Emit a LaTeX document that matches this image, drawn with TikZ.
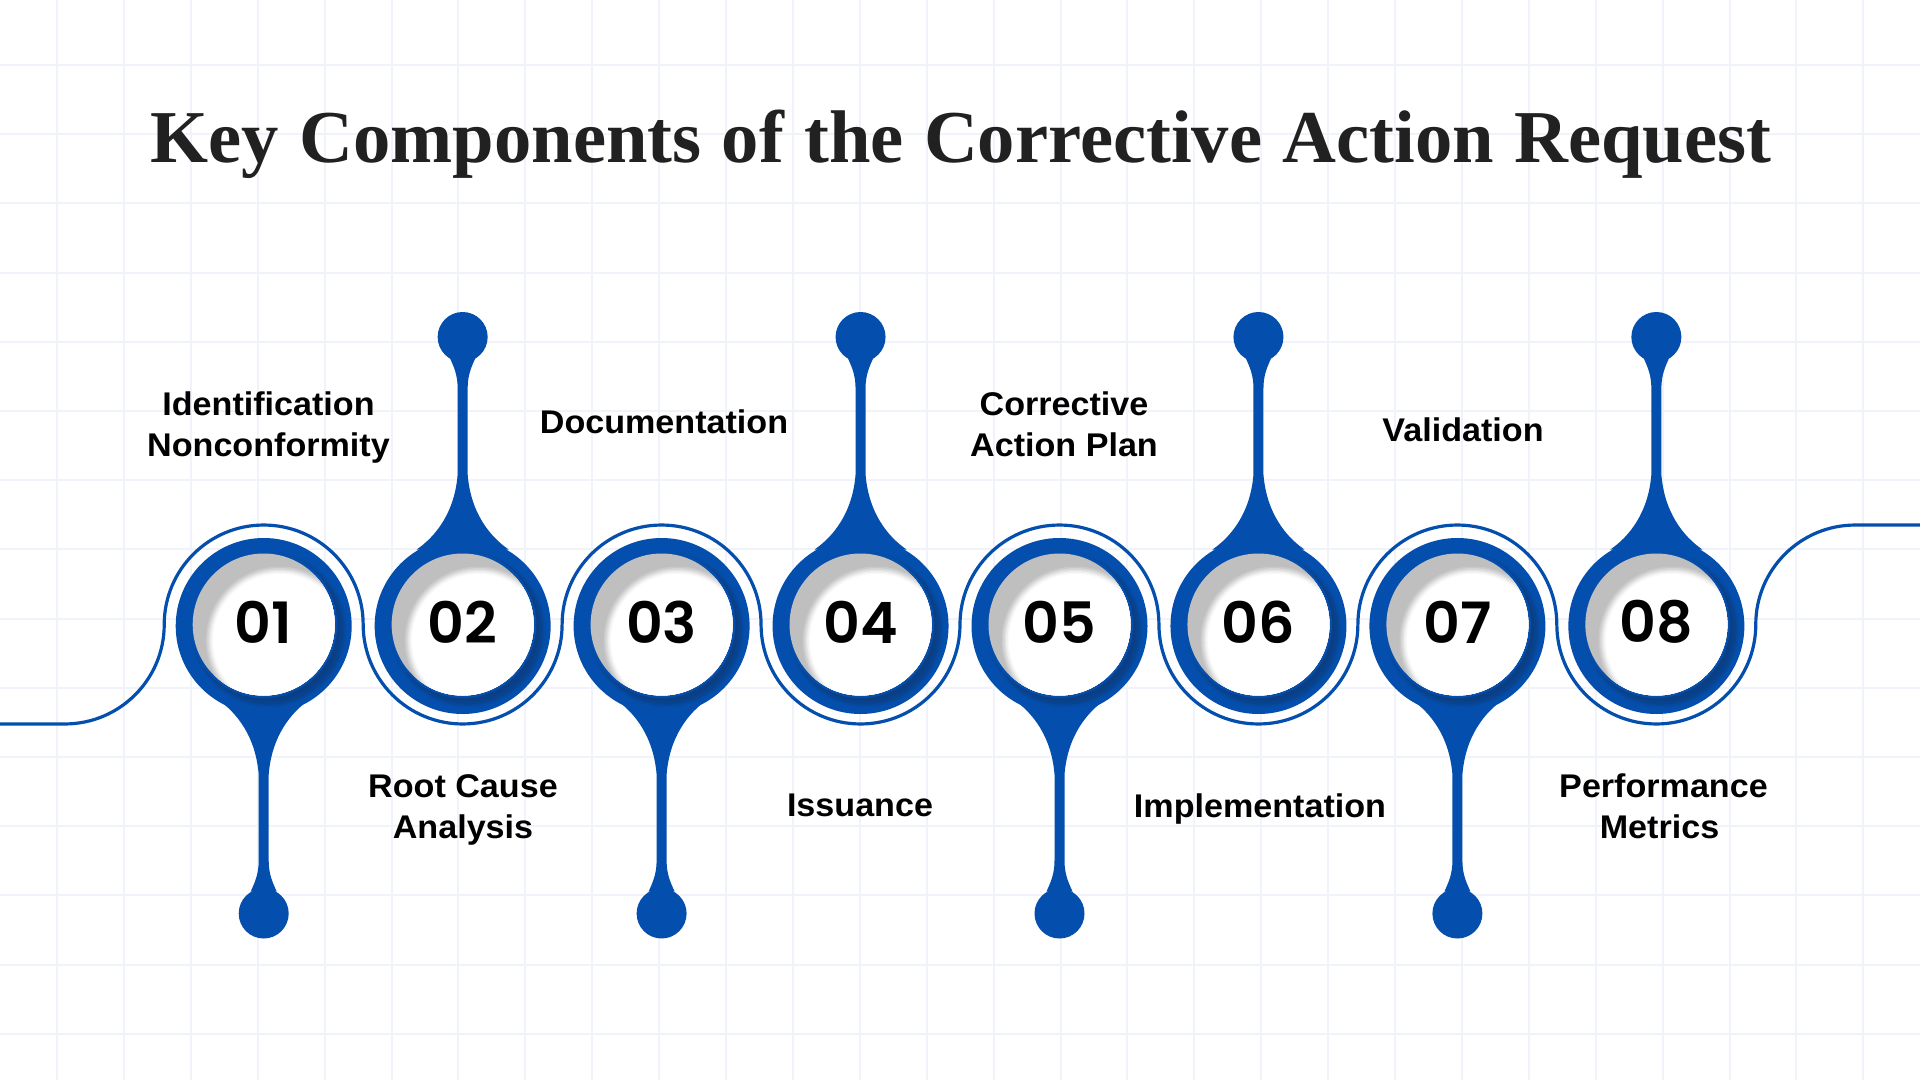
\documentclass[tikz,border=0pt]{standalone}
\usepackage{fontspec}
\setmainfont{Liberation Serif}[WordSpace=1.09]
\newfontfamily\numfont{Poppins}[UprightFont=* SemiBold]
\newfontfamily\labfont{Liberation Sans}[UprightFont=* Bold,FakeStretch=1.04]
\definecolor{pinblue}{HTML}{044FAD}
\definecolor{pindark}{HTML}{0A3F86}
\definecolor{gridc}{HTML}{F0F4FA}
\definecolor{titlec}{HTML}{212121}
\definecolor{crescent}{HTML}{BFBFBF}
\tikzset{
  gridline/.style={gridc,line width=1pt},
  wave/.style={pinblue,line width=1.6pt},
  numtext/.style={font=\numfont\fontsize{28.5}{30}\selectfont,text=black,inner sep=0pt},
  labtext/.style={font=\labfont\fontsize{16.4}{20.5}\selectfont,text=black,align=center,inner sep=0pt,anchor=center},
  titletext/.style={font=\bfseries\fontsize{37.3}{40}\selectfont,text=titlec,inner sep=0pt,anchor=base}
}
\begin{document}
\begin{tikzpicture}[x=0.5pt,y=-0.5pt]
\useasboundingbox (0,0) rectangle (1920,1080);
\fill[white] (0,0) rectangle (1920,1080);
% grid
\foreach \i in {0,...,27}{\draw[gridline] ({57+66.9*\i},0) -- ({57+66.9*\i},1080);}
\foreach \i in {0,...,14}{\draw[gridline] (0,{65+69.2*\i}) -- (1920,{65+69.2*\i});}
% title
\node[titletext] (title) at (961,163) {Key Components of the Corrective Action Request};
% centres
\foreach \k in {1,...,8}{\coordinate (c\k) at ({263.7+198.95*(\k-1)},624.5);}
% wave
\coordinate (wstart) at (0,723.97);
\coordinate (wleft) at (64.76,723.97);
\coordinate (wend) at (1920,525.03);
\draw[wave] (wstart) -- (wleft) arc[start angle=90,end angle=0,radius=99.47]
  arc[start angle=180,end angle=360,radius=99.47]
  arc[start angle=180,end angle=0,radius=99.47]
  arc[start angle=180,end angle=360,radius=99.47]
  arc[start angle=180,end angle=0,radius=99.47]
  arc[start angle=180,end angle=360,radius=99.47]
  arc[start angle=180,end angle=0,radius=99.47]
  arc[start angle=180,end angle=360,radius=99.47]
  arc[start angle=180,end angle=0,radius=99.47]
  arc[start angle=180,end angle=270,radius=99.47] -- (wend);
% pins
\foreach \k/\lab/\s/\kn in {1/01/1/289,2/02/-1/287.5,3/03/1/289,4/04/-1/287.5,5/05/1/289,6/06/-1/287.5,7/07/1/289,8/08/-1/287.5}{
  \begin{scope}[shift={(c\k)}]
    \begin{scope}[yscale=\s]
      \fill[pinblue] (-46,75) .. controls (-27,88) and (-8,112) .. (-5,150)
        -- (-5,236) .. controls (-5,250) and (-9,258) .. (-13,267)
        -- (13,267) .. controls (9,258) and (5,250) .. (5,236)
        -- (5,150) .. controls (8,112) and (27,88) .. (46,75) -- cycle;
      \fill[pinblue] (0,\kn) circle[radius=25];
    \end{scope}
    \fill[pinblue] (0,1.5) circle[radius=88];
    % dark inner shadow on the ring
    \fill[pinblue!80!pindark] (5,5) circle[radius=78];
    \fill[pinblue!55!pindark] (5,5) circle[radius=76.5];
    \fill[pinblue!25!pindark] (5,5) circle[radius=75];
    \fill[pindark] (4,4) circle[radius=73];
    \fill[pinblue] (0,0) circle[radius=73.5];
    % well
    \fill[crescent] (0,0) circle[radius=71];
    \begin{scope}
      \clip (0,0) circle[radius=71];
      \fill[crescent!85!white] (16,16) circle[radius=74];
      \fill[crescent!65!white] (16,16) circle[radius=72.5];
      \fill[crescent!45!white] (16,16) circle[radius=71];
      \fill[crescent!25!white] (16,16) circle[radius=69.5];
      \fill[crescent!10!white] (16,16) circle[radius=68];
      \fill[white] (16,16) circle[radius=66.5];
    \end{scope}
    \node[numtext] (n\k) at (0,-2.5) {\lab};
  \end{scope}
}
% labels
\node[labtext] (l1) at (268.5,427.3) {Identification\strut\\Nonconformity\strut};
\node[labtext] (l2) at (463,809.8) {Root Cause\strut\\Analysis\strut};
\node[labtext] (l3) at (664,425) {Documentation\strut};
\node[labtext] (l4) at (860,808) {Issuance\strut};
\node[labtext] (l5) at (1064,427.3) {Corrective\strut\\Action Plan\strut};
\node[labtext] (l6) at (1260,809) {Implementation\strut};
\node[labtext] (l7) at (1463,433) {Validation\strut};
\node[labtext] (l8) at (1663.5,809.8) {Performance\strut\\Metrics\kern4pt\strut};
\end{tikzpicture}
\end{document}
